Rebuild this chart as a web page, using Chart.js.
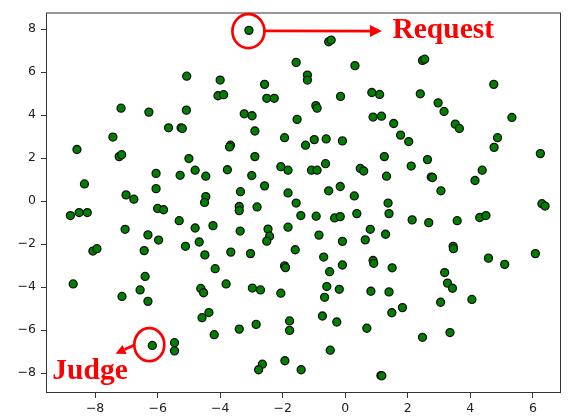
<!DOCTYPE html>
<html><head><meta charset="utf-8">
<script src="https://cdn.jsdelivr.net/npm/chart.js@4/dist/chart.umd.min.js"></script>
<style>html,body{margin:0;padding:0;background:#fff}</style>
</head><body>
<canvas id="c" width="570" height="420"></canvas>
<script>
// ---- data ----
const xValues = [
 -5.07,-4.00,-4.07,-3.89,-7.17,-6.28,-5.08,-5.65,-5.25,-5.21,-7.43,
 -3.08,-0.53,-0.45,-1.57,0.31,-1.21,-1.21,-2.58,-2.51,-2.27,-0.15,0.85,1.10,-0.94,-0.90,-3.23,-2.98,-1.54,0.89,1.16,1.55,-2.89,-1.94,-0.99,-0.61,-0.09,-1.27,-3.67,-3.70,1.77,
 2.47,2.54,4.75,2.40,2.97,3.16,3.52,3.65,5.33,2.03,4.87,
 -8.58,-7.23,-7.15,-5.00,-4.80,-4.46,-5.28,-6.05,-8.34,-6.05,-7.01,-6.76,-4.46,-4.50,-8.79,-8.51,-8.25,-6.00,-5.81,-5.31,-4.80,-4.23,-7.04,-6.31,-5.97,-4.67,-5.11,-8.07,-7.94,-6.43,-4.49,-4.16,
 -2.89,1.25,-3.77,-2.06,-1.83,-1.08,-0.90,-0.63,0.48,0.59,-2.99,1.32,-2.58,-3.35,-1.83,-0.53,-0.16,0.29,-1.57,-3.39,-3.39,-2.82,1.37,-1.42,-0.93,-0.34,-0.16,0.37,1.40,-3.36,-2.47,-2.42,-2.51,-1.83,-0.84,-0.09,0.80,0.64,1.29,-3.66,-3.03,-1.60,-0.69,-1.94,-1.91,-0.50,-0.09,0.89,0.91,1.50,
 4.76,6.24,2.11,2.63,4.38,4.15,2.75,2.79,3.06,6.29,6.39,2.14,2.67,3.58,4.30,4.50,3.45,3.46,4.58,5.10,6.08,
 -8.70,-6.40,-7.14,-6.56,-6.31,-4.62,-4.53,-4.36,-4.58,-4.19,-6.17,-5.46,-5.46,
 -3.81,-2.97,-2.71,-2.06,-0.59,-0.66,-0.19,0.82,1.40,1.49,-3.39,-2.85,-1.78,-1.78,-0.73,-0.27,0.69,-0.48,-2.65,-2.77,-1.93,-1.41,1.14,1.17,
 3.18,3.27,3.43,4.05,3.05,1.83,2.47,3.35
];
const yValues = [
 5.81,5.63,4.90,4.95,4.32,4.14,4.23,3.41,3.41,3.38,2.98,
 7.94,7.41,7.49,6.45,6.30,5.86,5.63,5.43,4.78,4.78,4.87,5.05,4.96,4.44,4.32,4.06,3.97,3.80,3.91,3.95,3.61,3.26,2.95,2.86,2.89,2.80,2.60,2.60,2.52,3.07,
 6.54,6.60,5.43,4.99,4.57,4.17,3.58,3.38,3.89,2.77,2.95,
 2.40,2.07,2.16,1.98,1.44,1.16,1.20,1.29,0.80,0.58,0.29,0.09,0.21,-0.06,-0.67,-0.53,-0.53,-0.34,-0.40,-0.91,-1.25,-1.14,-1.31,-1.57,-1.81,-1.90,-2.10,-2.32,-2.21,-2.30,-2.50,-3.14,
 2.07,2.07,1.46,1.60,1.44,1.44,1.44,1.74,1.52,1.40,1.19,1.16,0.71,0.44,0.38,0.48,0.68,0.24,-0.09,-0.25,-0.44,-0.27,-0.09,-0.67,-0.70,-0.78,-0.72,-0.58,-0.58,-1.39,-1.30,-1.63,-1.86,-1.21,-1.58,-1.87,-1.31,-1.80,-1.54,-2.37,-2.44,-2.26,-2.60,-3.01,-3.09,-3.28,-2.97,-2.76,-2.89,-3.10,
 2.50,2.21,1.63,1.93,1.44,0.96,1.12,1.10,0.48,-0.12,-0.23,-0.87,-1.00,-0.91,-0.76,-0.67,-2.10,-2.21,-2.65,-2.94,-2.44,
 -3.85,-3.50,-4.43,-4.13,-4.66,-4.06,-4.26,-5.18,-5.42,-6.21,-6.71,-6.58,-6.96,
 -3.85,-4.04,-4.13,-4.28,-3.97,-4.47,-4.10,-4.19,-4.22,-5.19,-5.95,-5.73,-5.57,-6.01,-5.34,-5.62,-5.91,-6.93,-7.58,-7.84,-7.42,-7.84,-8.11,-8.12,
 -3.32,-3.81,-4.05,-4.57,-4.70,-4.95,-6.33,-6.11
];
const xTickValues = [-8,-6,-4,-2,0,2,4,6];
const yTickValues = [-8,-6,-4,-2,0,2,4,6,8];
const annotationLabels = ['Request','Judge'];
const requestIndex = 11;
const judgeIndex = 165;

const points = xValues.map((v,i)=>({x:v,y:yValues[i]}));
const fmt = v => String(v).replace('-', '\u2212');

function arrow(ctx, x0, y0, x1, y1, head, half){
  const dx = x1-x0, dy = y1-y0, L = Math.hypot(dx,dy);
  const ux = dx/L, uy = dy/L;
  const bx = x1-ux*head, by = y1-uy*head;
  ctx.beginPath(); ctx.moveTo(x0,y0); ctx.lineTo(bx,by); ctx.stroke();
  ctx.beginPath(); ctx.moveTo(x1,y1);
  ctx.lineTo(bx-uy*half, by+ux*half); ctx.lineTo(bx+uy*half, by-ux*half);
  ctx.closePath(); ctx.fill();
}

const annot = {
  id:'annot',
  afterDatasetsDraw(chart){
    const {ctx, chartArea:a, scales:{x,y}} = chart;
    ctx.save();
    // spines
    ctx.strokeStyle = '#333'; ctx.lineWidth = 1;
    ctx.strokeRect(a.left+0.5, a.top+0.5, a.right-a.left-1, a.bottom-a.top-1);
    ctx.strokeStyle = '#ff0000'; ctx.fillStyle = '#ff0000'; ctx.lineWidth = 2.7;
    ctx.font = 'bold 29.5px "Liberation Serif"'; ctx.textBaseline = 'alphabetic'; ctx.textAlign = 'left';
    // Request
    let px = x.getPixelForValue(xValues[requestIndex]), py = y.getPixelForValue(yValues[requestIndex]);
    ctx.beginPath(); ctx.ellipse(px-0.5, py+0.8, 16, 17, 0, 0, Math.PI*2); ctx.stroke();
    arrow(ctx, px+15.5, py+0.5, px+133, py+0.7, 12, 6);
    ctx.fillText(annotationLabels[0], px+143.5, py+7.5);
    // Judge
    px = x.getPixelForValue(xValues[judgeIndex]); py = y.getPixelForValue(yValues[judgeIndex]);
    ctx.beginPath(); ctx.ellipse(px-3, py-0.8, 15, 16.5, 0, 0, Math.PI*2); ctx.stroke();
    arrow(ctx, px-18, py-0.5, px-36.8, py+8.2, 10, 5);
    ctx.fillText(annotationLabels[1], px-100, py+34);
    ctx.restore();
  }
};

const tickFont = {family:'"DejaVu Sans"', size:12.5};
new Chart(document.getElementById('c'), {
  type:'scatter',
  data:{datasets:[{data:points, pointRadius:4, pointBackgroundColor:'#008000', pointBorderColor:'#111', pointBorderWidth:1.3}]},
  options:{
    responsive:false, animation:false,
    layout:{padding:{top:5, right:9, left:0, bottom:0}},
    plugins:{legend:{display:false}, tooltip:{enabled:false}},
    scales:{
      x:{type:'linear', min:-9.57, max:6.90,
         afterBuildTicks:s=>{s.ticks = xTickValues.map(v=>({value:v}));},
         afterFit:s=>{s.height = 27;},
         grid:{drawOnChartArea:false, drawTicks:true, tickLength:5, tickColor:'#333'},
         border:{display:false},
         ticks:{font:tickFont, color:'#222', padding:3, maxRotation:0, autoSkip:false, callback:v=>fmt(v)}},
      y:{type:'linear', min:-8.92, max:8.77,
         afterBuildTicks:s=>{s.ticks = yTickValues.map(v=>({value:v}));},
         afterFit:s=>{s.width = 46;},
         grid:{drawOnChartArea:false, drawTicks:true, tickLength:5, tickColor:'#333'},
         border:{display:false},
         ticks:{font:tickFont, color:'#222', padding:5, autoSkip:false, callback:v=>fmt(v)}}
    }
  },
  plugins:[annot]
});
</script>
</body></html>
